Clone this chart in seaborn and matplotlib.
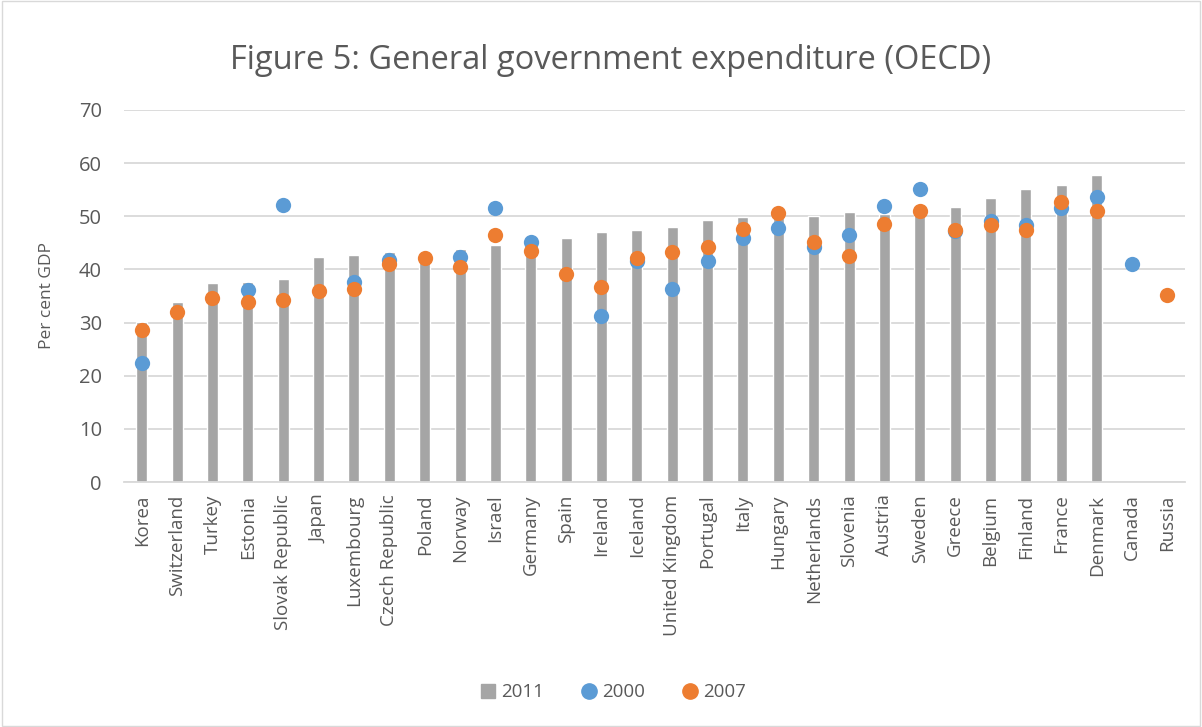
import numpy as np
import pandas as pd
import seaborn as sns
import matplotlib.pyplot as plt
from matplotlib.lines import Line2D
from matplotlib.patches import Rectangle

# ---------- data ----------
countries = ['Korea', 'Switzerland', 'Turkey', 'Estonia', 'Slovak Republic', 'Japan',
             'Luxembourg', 'Czech Republic', 'Poland', 'Norway', 'Israel', 'Germany',
             'Spain', 'Ireland', 'Iceland', 'United Kingdom', 'Portugal', 'Italy',
             'Hungary', 'Netherlands', 'Slovenia', 'Austria', 'Sweden', 'Greece',
             'Belgium', 'Finland', 'France', 'Denmark', 'Canada', 'Russia']
y2011 = [30.2, 33.8, 37.4, 37.6, 38.2, 42.3, 42.8, 43.2, 41.9, 43.8, 44.6, 44.7,
         45.9, 47.0, 47.4, 47.9, 49.3, 49.8, 49.8, 50.1, 50.8, 50.5, 51.3, 51.8,
         53.4, 55.2, 55.9, 57.7, np.nan, np.nan]
y2000 = [22.4, np.nan, np.nan, 36.1, 52.1, np.nan, 37.7, 41.8, np.nan, 42.4, 51.6, 45.1,
         np.nan, 31.2, 41.6, 36.4, 41.6, 45.9, 47.8, 44.2, 46.5, 51.9, 55.1, 47.2,
         49.1, 48.4, 51.6, 53.7, 41.1, np.nan]
y2007 = [28.6, 32.0, 34.7, 33.9, 34.2, 35.9, 36.3, 41.0, 42.2, 40.4, 46.5, 43.5,
         39.2, 36.7, 42.2, 43.2, 44.3, 47.7, 50.7, 45.2, 42.5, 48.6, 51.0, 47.5,
         48.3, 47.4, 52.6, 50.9, np.nan, 35.2]

GREY = '#A5A5A5'
BLUE = '#5B9BD5'
ORANGE = '#ED7D31'
TXT = '#595959'
GRID = '#D9D9D9'

df = pd.DataFrame({'country': countries, '2011': y2011, '2000': y2000, '2007': y2007})

sns.set_theme(style='white')
plt.rcParams['font.family'] = ['Open Sans', 'DejaVu Sans']

fig = plt.figure(figsize=(12.02, 7.27), dpi=100)
ax = fig.add_axes([0.1032, 0.337, 0.8827, 0.5117])

# bars = 2011, dots = 2000 / 2007
sns.barplot(data=df, x='country', y='2011', order=countries, color=GREY,
            width=0.31, saturation=1, ax=ax, zorder=2)
for col, c in [('2000', BLUE), ('2007', ORANGE)]:
    sns.stripplot(data=df, x='country', y=col, order=countries, color=c,
                  jitter=False, size=11, linewidth=0, ax=ax, zorder=3)

ax.set_ylim(0, 70)
ax.set_xlim(-0.5, len(countries) - 0.5)
ax.set_yticks(range(0, 71, 10))
ax.yaxis.grid(True, color=GRID, linewidth=1.3, zorder=0)
ax.set_axisbelow(True)
for s in ['top', 'right', 'left']:
    ax.spines[s].set_visible(False)
ax.spines['bottom'].set_color(GRID)
ax.spines['bottom'].set_linewidth(1.3)
ax.tick_params(axis='both', length=0, colors=TXT)
ax.tick_params(axis='y', labelsize=14.5, pad=16)
ax.tick_params(axis='x', labelsize=13.5, pad=9)
plt.setp(ax.get_xticklabels(), rotation=90)
ax.set_xlabel('')
ax.set_ylabel('Per cent GDP', fontsize=12.5, color=TXT, labelpad=17)

fig.suptitle('Figure 5: General government expenditure (OECD)', x=0.508, y=0.94,
             fontsize=23.5, color=TXT)

handles = [Line2D([], [], marker='s', linestyle='', color=GREY, markersize=9.5),
           Line2D([], [], marker='o', linestyle='', color=BLUE, markersize=11),
           Line2D([], [], marker='o', linestyle='', color=ORANGE, markersize=11)]
fig.legend(handles, ['2011', '2000', '2007'], loc='center', bbox_to_anchor=(0.508, 0.048),
           ncol=3, frameon=False, fontsize=13.5, handletextpad=0.0, columnspacing=1.7,
           handlelength=1.4, labelcolor=TXT)

fig.patches.append(Rectangle((0.002, 0.002), 0.996, 0.996, transform=fig.transFigure,
                             fill=False, edgecolor=GRID, linewidth=1))

fig.savefig('out.png', dpi=100)
